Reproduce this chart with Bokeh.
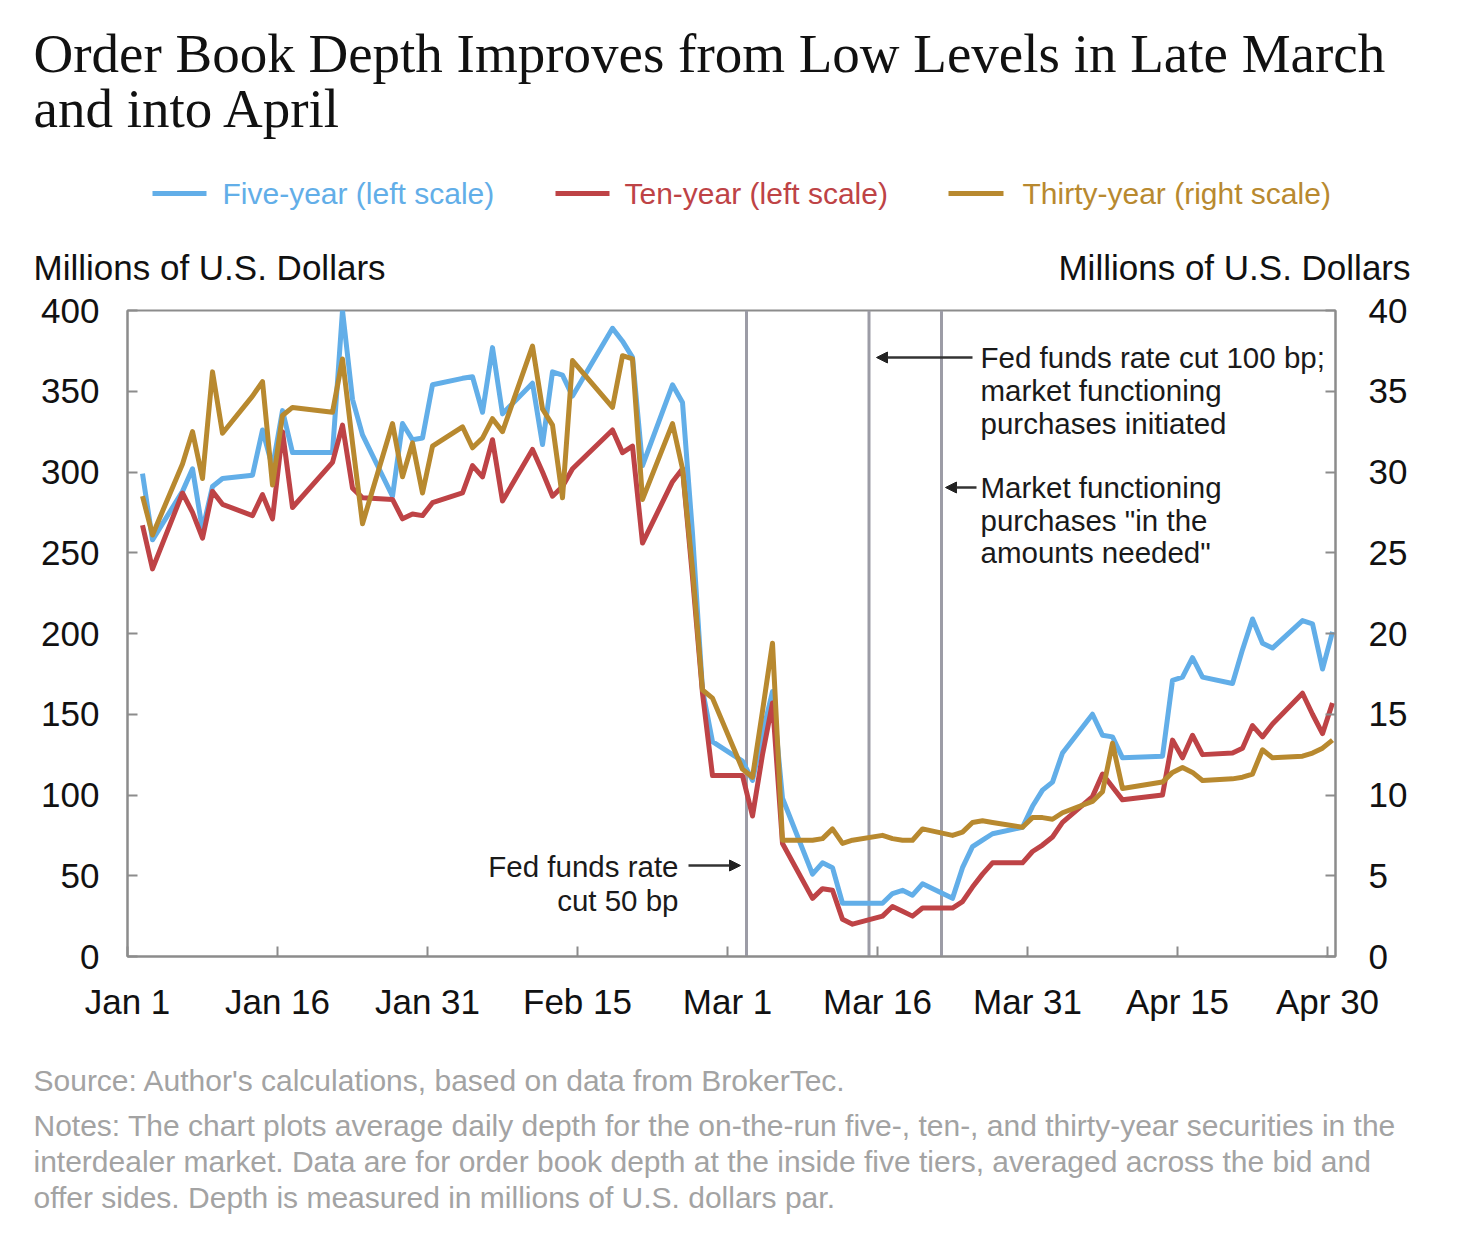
import pandas as pd
from bokeh.plotting import figure
from bokeh.layouts import column
from bokeh.models import Range1d, LinearAxis, FixedTicker, Span, Label, Arrow, NormalHead
from bokeh.core.properties import value
from bokeh.embed import file_html
from bokeh.resources import INLINE

# ---------------- data ----------------
dates = [
    "2020-01-02", "2020-01-03", "2020-01-06", "2020-01-07", "2020-01-08", "2020-01-09", "2020-01-10",
    "2020-01-13", "2020-01-14", "2020-01-15", "2020-01-16", "2020-01-17", "2020-01-21", "2020-01-22",
    "2020-01-23", "2020-01-24", "2020-01-27", "2020-01-28", "2020-01-29", "2020-01-30", "2020-01-31",
    "2020-02-03", "2020-02-04", "2020-02-05", "2020-02-06", "2020-02-07", "2020-02-10", "2020-02-11",
    "2020-02-12", "2020-02-13", "2020-02-14", "2020-02-18", "2020-02-19", "2020-02-20", "2020-02-21",
    "2020-02-24", "2020-02-25", "2020-02-26", "2020-02-27", "2020-02-28",
    "2020-03-02", "2020-03-03", "2020-03-04", "2020-03-05", "2020-03-06", "2020-03-09", "2020-03-10",
    "2020-03-11", "2020-03-12", "2020-03-13", "2020-03-16", "2020-03-17", "2020-03-18", "2020-03-19",
    "2020-03-20", "2020-03-23", "2020-03-24", "2020-03-25", "2020-03-26", "2020-03-27", "2020-03-30",
    "2020-03-31",
    "2020-04-01", "2020-04-02", "2020-04-03", "2020-04-06", "2020-04-07", "2020-04-08", "2020-04-09",
    "2020-04-13", "2020-04-14", "2020-04-15", "2020-04-16", "2020-04-17", "2020-04-20", "2020-04-21",
    "2020-04-22", "2020-04-23", "2020-04-24", "2020-04-27", "2020-04-28", "2020-04-29", "2020-04-30",
]

five_year = [
    299, 258, 288, 302, 264, 291, 296, 298, 326, 303, 338, 312, 312, 400, 345, 323, 285, 330, 320, 321, 354,
    358, 359, 337, 377, 336, 355, 317, 362, 360, 347, 389, 381, 371, 304, 354, 343, 262, 165, 133,
    121, 109, 138, 164, 98, 51, 58, 55, 33, 33, 33, 39, 41, 38, 45, 36, 55, 68, 72, 76, 80, 93,
    103, 108, 126, 150, 137, 136, 123, 124, 171, 173, 185, 173, 169, 190, 209, 194, 191, 208, 206, 178, 201,
]

ten_year = [
    267, 240, 287, 275, 259, 288, 280, 273, 286, 271, 325, 278, 306, 329, 290, 284, 283, 271, 274, 273, 281,
    287, 304, 297, 320, 282, 314, 300, 285, 291, 302, 326, 312, 316, 256, 294, 302, 235, 163, 112,
    112, 87, 125, 157, 70, 36, 42, 41, 23, 20, 25, 31, 28, 25, 30, 30, 34, 43, 51, 58, 58, 65,
    69, 74, 83, 99, 113, 105, 97, 100, 134, 123, 137, 125, 126, 129, 143, 136, 144, 163, 150, 138, 157,
]

thirty_year = [
    28.5, 26.1, 30.5, 32.5, 29.6, 36.2, 32.4, 34.7, 35.6, 29.2, 33.5, 34.0, 33.7, 37.0, 31.8, 26.8, 33.0, 29.7, 31.8, 28.7, 31.6,
    32.8, 31.5, 32.1, 33.3, 32.5, 37.8, 33.9, 32.9, 28.4, 36.9, 34.0, 37.2, 37.0, 28.3, 33.0, 30.2, 24.0, 16.5, 16.0,
    11.6, 11.1, 15.2, 19.4, 7.2, 7.2, 7.3, 7.9, 7.0, 7.2, 7.5, 7.3, 7.2, 7.2, 7.9, 7.5, 7.7, 8.3, 8.4, 8.3, 8.0, 8.6,
    8.6, 8.5, 8.9, 9.6, 10.2, 13.2, 10.4, 10.8, 11.4, 11.7, 11.4, 10.9, 11.0, 11.1, 11.3, 12.8, 12.3, 12.4, 12.6, 12.9, 13.4,
]

tick_days = [0, 15, 30, 45, 60, 75, 90, 105, 120]
tick_labels = ["Jan 1", "Jan 16", "Jan 31", "Feb 15", "Mar 1", "Mar 16", "Mar 31", "Apr 15", "Apr 30"]
left_ticks = [0, 50, 100, 150, 200, 250, 300, 350, 400]
right_ticks = [0, 5, 10, 15, 20, 25, 30, 35, 40]
event_days = [61.9, 74.15, 81.4]   # Mar 3, Mar 15, Mar 23 announcements (days after Jan 1)

series_names = ["Five-year (left scale)", "Ten-year (left scale)", "Thirty-year (right scale)"]
axis_title = "Millions of U.S. Dollars"
title_lines = ["Order Book Depth Improves from Low Levels in Late March", "and into April"]
source_line = "Source: Author's calculations, based on data from BrokerTec."
note_lines = [
    "Notes: The chart plots average daily depth for the on-the-run five-, ten-, and thirty-year securities in the",
    "interdealer market. Data are for order book depth at the inside five tiers, averaged across the bid and",
    "offer sides. Depth is measured in millions of U.S. dollars par.",
]
BLUE, RED, GOLD = "#62aee8", "#be4346", "#b8892f"
INK = "#111111"
GR = "#a3a3a3"

# x position: days since Jan 1, plotted at mid-day
base = pd.Timestamp("2020-01-01")
xs = [(pd.Timestamp(d) - base).days + 0.5 for d in dates]

# ---------------- layout (page pixels) ----------------
W = 1456
HEAD_H = 290          # header figure: page y 0..290
BL, BR, BT, BB = 127, 121, 20, 84
FW, FH = 1208, 646    # frame: page x 127..1335, y 310..956
MAIN_H = BT + FH + BB  # 750 -> main ends at page y 1040
FOOT_TOP = HEAD_H + MAIN_H
FOOT_H = 206
X0, X1 = 0, 120.8
Y0, Y1 = 0, 400
FRAME_LEFT = BL
FRAME_BOTTOM = HEAD_H + BT + FH


def pixel_fig(top, height):
    f = figure(frame_width=W, frame_height=height, min_border=0, x_range=Range1d(0, W),
               y_range=Range1d(top + height, top), x_axis_location=None, y_axis_location=None,
               output_backend="svg", toolbar_location=None,
               background_fill_color="white", border_fill_color="white")
    f.frame_align = False
    f.grid.visible = False
    f.outline_line_color = None
    return f


def txt(f, s, x, y, size, color=INK, align="left", font="Liberation Sans"):
    f.text(x=[x], y=[y], text=[s], text_font=value(font), text_font_size=value(size),
           text_color=color, text_align=align, text_baseline="middle")


# ---------------- header ----------------
head = pixel_fig(0, HEAD_H)
txt(head, title_lines[0], 33, 53, "55px", font="Liberation Serif")
txt(head, title_lines[1], 33, 108, "55px", font="Liberation Serif")
leg = [(152, 206, 222, BLUE), (555, 609, 624, RED), (948, 1003, 1022, GOLD)]
for (x_a, x_b, x_t, c), name in zip(leg, series_names):
    head.segment(x0=[x_a], y0=[193], x1=[x_b], y1=[193], line_color=c, line_width=5)
    txt(head, name, x_t, 193, "30px", color=c)
txt(head, axis_title, 33, 267, "35px")
txt(head, axis_title, 1410, 267, "35px", align="right")

# ---------------- main chart ----------------
p = figure(frame_width=FW, frame_height=FH,
           min_border_left=BL, min_border_right=BR, min_border_top=BT, min_border_bottom=BB,
           x_range=Range1d(X0, X1), y_range=Range1d(Y0, Y1),
           output_backend="svg", toolbar_location=None,
           background_fill_color="white", border_fill_color="white")
p.frame_align = False
p.extra_y_ranges = {"right": Range1d(0, 40)}
p.grid.visible = False
p.outline_line_color = "#8c8c8c"
p.outline_line_width = 2

right_axis = LinearAxis(y_range_name="right")
p.add_layout(right_axis, "right")

AX = "#8c8c8c"
for ax in [p.xaxis[0], p.yaxis[0], right_axis]:
    ax.axis_line_color = AX
    ax.axis_line_width = 2
    ax.major_tick_in = 10
    ax.major_tick_out = 0
    ax.major_tick_line_color = AX
    ax.major_tick_line_width = 2
    ax.minor_tick_line_color = None
    ax.major_label_text_font = "Liberation Sans"
    ax.major_label_text_font_size = "35px"
    ax.major_label_text_color = INK

p.xaxis[0].ticker = FixedTicker(ticks=tick_days)
p.xaxis[0].major_label_overrides = {d: t for d, t in zip(tick_days, tick_labels)}
p.xaxis[0].major_label_standoff = 25
p.yaxis[0].ticker = FixedTicker(ticks=left_ticks)
p.yaxis[0].major_label_standoff = 28
right_axis.ticker = FixedTicker(ticks=right_ticks)
right_axis.major_label_standoff = 33

# event lines
for d in event_days:
    p.add_layout(Span(location=d, dimension="height", line_color="#9c9ca6",
                      line_width=3, level="underlay"))

# series
p.line(xs, five_year, line_color=BLUE, line_width=5, line_join="round")
p.line(xs, ten_year, line_color=RED, line_width=5, line_join="round")
p.line(xs, thirty_year, line_color=GOLD, line_width=5, line_join="round", y_range_name="right")


# page pixel -> data units (annotations inside the frame only)
def dx(px):
    return X0 + (px - FRAME_LEFT) * (X1 - X0) / FW


def dy(py):
    return Y0 + (FRAME_BOTTOM - py) * (Y1 - Y0) / FH


def lab(s, x, y, align="left"):
    p.add_layout(Label(x=dx(x), y=dy(y), text=s, text_font="Liberation Sans",
                       text_font_size="29.5px", text_color="#1a1a1a",
                       text_align=align, text_baseline="middle"))


def arrow(xa, xb, y):
    p.add_layout(Arrow(end=NormalHead(size=11, fill_color="#222222", line_color="#222222"),
                       x_start=dx(xa), x_end=dx(xb), y_start=dy(y), y_end=dy(y),
                       line_color="#333333", line_width=2.5))


arrow(688, 740, 865)
lab("Fed funds rate", 678, 866, align="right")
lab("cut 50 bp", 678, 900, align="right")

arrow(972, 876, 357)
lab("Fed funds rate cut 100 bp;", 980, 357)
lab("market functioning", 980, 390)
lab("purchases initiated", 980, 423)

arrow(976, 945, 487)
lab("Market functioning", 980, 487)
lab("purchases \"in the", 980, 520)
lab("amounts needed\"", 980, 552)

# ---------------- footer ----------------
foot = pixel_fig(FOOT_TOP, FOOT_H)
txt(foot, source_line, 33, 1080, "30px", color=GR)
for s, y in zip(note_lines, [1125, 1161, 1197]):
    txt(foot, s, 33, y, "30px", color=GR)

page = column(head, p, foot, spacing=0)
open("out.html", "w").write(file_html(page, INLINE))
